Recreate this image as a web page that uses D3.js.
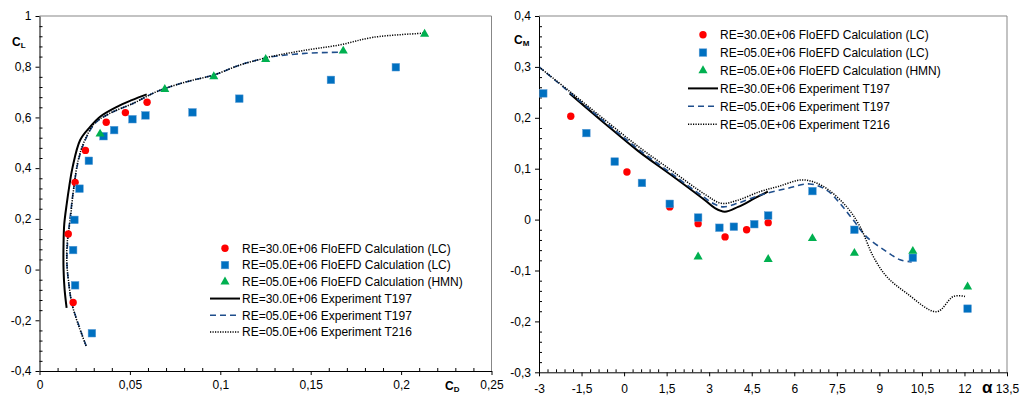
<!DOCTYPE html>
<html lang="en">
<head>
<meta charset="UTF-8">
<title>CL-CD and CM-alpha</title>
<script src="https://cdn.jsdelivr.net/npm/d3@7"></script>
<style>
    body { margin: 0; background: #fff; }
    svg { font-family: "Liberation Sans", Arial, sans-serif; }
</style>
</head>
<body>
<div id="container"></div>
<script>
// ---------- left chart: CL over CD ----------
const cdRe30Lc = [0.0186, 0.0159, 0.0197, 0.0254, 0.0369, 0.0475, 0.0595];
const clRe30Lc = [-0.130, 0.140, 0.344, 0.470, 0.581, 0.619, 0.660];

const cdRe5Lc = [0.0290, 0.0197, 0.0186, 0.0193, 0.0221, 0.0273, 0.0354, 0.0413, 0.0514, 0.0586, 0.0846, 0.1105, 0.1612, 0.1971];
const clRe5Lc = [-0.251, -0.062, 0.077, 0.196, 0.319, 0.429, 0.526, 0.550, 0.593, 0.608, 0.620, 0.674, 0.748, 0.798];

const cdRe5Hmn = [0.0335, 0.0693, 0.0964, 0.1251, 0.1680, 0.2130];
const clRe5Hmn = [0.535, 0.711, 0.761, 0.829, 0.862, 0.929];

const cdExpRe30T197 = [0.0150, 0.0139, 0.0133, 0.0133, 0.0137, 0.0151, 0.0165, 0.0182, 0.0225, 0.0280, 0.0335, 0.0428, 0.0510, 0.0593];
const clExpRe30T197 = [-0.151, -0.080, 0.000, 0.104, 0.180, 0.261, 0.330, 0.400, 0.511, 0.563, 0.603, 0.642, 0.668, 0.691];

const cdExpRe5T197 = [0.0258, 0.0220, 0.0179, 0.0160, 0.0152, 0.0155, 0.0170, 0.0188, 0.0216, 0.0253, 0.0308, 0.0390, 0.0520, 0.0649, 0.0815, 0.0962, 0.1110, 0.1220, 0.1293, 0.1478, 0.1660];
const clExpRe5T197 = [-0.301, -0.225, -0.133, -0.045, 0.020, 0.104, 0.209, 0.314, 0.432, 0.511, 0.577, 0.616, 0.656, 0.702, 0.741, 0.767, 0.807, 0.829, 0.840, 0.853, 0.857];

const cdExpRe5T216 = [0.0258, 0.0218, 0.0179, 0.0160, 0.0151, 0.0153, 0.0170, 0.0188, 0.0214, 0.0251, 0.0305, 0.0388, 0.0520, 0.0649, 0.0815, 0.0962, 0.1110, 0.1220, 0.1293, 0.1478, 0.1660, 0.1846, 0.2122];
const clExpRe5T216 = [-0.301, -0.225, -0.133, -0.041, 0.030, 0.104, 0.196, 0.314, 0.432, 0.511, 0.577, 0.616, 0.656, 0.702, 0.741, 0.767, 0.807, 0.829, 0.842, 0.866, 0.886, 0.916, 0.932];

const cdTicks = [0, 0.05, 0.1, 0.15, 0.2, 0.25];
const clTicks = [-0.4, -0.2, 0, 0.2, 0.4, 0.6, 0.8, 1];

// ---------- right chart: CM over alpha ----------
const alphaRe30Lc = [-1.88, 0.10, 1.61, 2.61, 3.56, 4.32, 5.08];
const cmRe30Lc = [0.203, 0.0935, 0.025, -0.008, -0.034, -0.020, -0.006];

const alphaRe5Lc = [-2.85, -1.33, -0.33, 0.63, 1.61, 2.61, 3.36, 3.87, 4.59, 5.08, 6.64, 8.12, 10.18, 12.11];
const cmRe5Lc = [0.248, 0.170, 0.114, 0.072, 0.031, 0.004, -0.016, -0.014, -0.009, 0.008, 0.056, -0.020, -0.075, -0.175];

const alphaRe5Hmn = [2.61, 5.08, 6.64, 8.12, 10.18, 12.11];
const cmRe5Hmn = [-0.073, -0.078, -0.037, -0.066, -0.062, -0.132];

const alphaExpRe30T197 = [-1.92, -0.68, 0.49, 1.66, 2.84, 3.19, 3.55, 4.02, 4.61, 5.07];
const cmExpRe30T197 = [0.248, 0.189, 0.135, 0.0876, 0.0385, 0.023, 0.0155, 0.025, 0.042, 0.055];

const alphaExpRe5T197 = [-3.0, -1.92, -0.68, 0.49, 1.66, 2.84, 3.20, 3.49, 4.0, 4.79, 5.73, 6.55, 7.14, 7.61, 8.08, 8.55, 9.26, 9.73, 10.14];
const cmExpRe5T197 = [0.300, 0.250, 0.192, 0.139, 0.091, 0.043, 0.030, 0.025, 0.032, 0.048, 0.061, 0.070, 0.058, 0.032, -0.001, -0.034, -0.063, -0.079, -0.083];

const alphaExpRe5T216 = [-3.0, -1.92, -0.68, 0.49, 1.66, 2.84, 3.43, 4.0, 4.79, 5.43, 6.32, 7.03, 7.85, 8.32, 8.79, 9.26, 9.97, 11.02, 11.61, 12.02];
const cmExpRe5T216 = [0.300, 0.252, 0.196, 0.144, 0.097, 0.050, 0.032, 0.038, 0.055, 0.065, 0.078, 0.065, 0.025, -0.014, -0.073, -0.112, -0.145, -0.181, -0.151, -0.151];

const alphaTicks = [-3, -1.5, 0, 1.5, 3, 4.5, 6, 7.5, 9, 10.5, 12, 13.5];
const cmTicks = [-0.3, -0.2, -0.1, 0, 0.1, 0.2, 0.3, 0.4];

const legendLabels = [
    "RE=30.0E+06 FloEFD Calculation (LC)",
    "RE=05.0E+06 FloEFD Calculation (LC)",
    "RE=05.0E+06 FloEFD Calculation (HMN)",
    "RE=30.0E+06 Experiment T197",
    "RE=05.0E+06 Experiment T197",
    "RE=05.0E+06 Experiment T216"
];

// decimal comma, plain hyphen minus
const fmt = d3.formatLocale({decimal: ",", thousands: " ", grouping: [3], currency: ["", ""], minus: "-"}).format("~g");

const styles = [
    {type: "circle", color: "#ff0000"},
    {type: "square", color: "#0070c0"},
    {type: "triangle", color: "#00b050"},
    {type: "line", color: "#000", width: 2, dash: null},
    {type: "line", color: "#1f4e8c", width: 1.6, dash: "6,4"},
    {type: "line", color: "#000", width: 1.5, dash: "1.2,1.3"}
];

const svg = d3.select("#container").append("svg")
    .attr("width", 1020)
    .attr("height", 396);

function minorTicks(lo, hi, step, majors) {
    const n = Math.round((hi - lo) / step);
    return d3.range(n + 1).map(i => +(lo + i * step).toFixed(6))
        .filter(v => !majors.some(m => Math.abs(m - v) < 1e-9));
}

function drawMarker(sel, type, color) {
    if (type === "circle") {
        sel.append("circle").attr("r", 3.7).attr("fill", color);
    } else if (type === "square") {
        sel.append("rect").attr("x", -3.8).attr("y", -3.8).attr("width", 7.6).attr("height", 7.6)
            .attr("fill", color).attr("stroke", "#5b9bd5").attr("stroke-width", 0.5);
    } else {
        sel.append("path").attr("d", d3.symbol(d3.symbolTriangle, 36)()).attr("fill", color);
    }
}

function drawPanel(p) {
    const g = svg.append("g");
    const x = d3.scaleLinear().domain(p.xDomain).range(p.xRange);
    const y = d3.scaleLinear().domain(p.yDomain).range(p.yRange);
    const [x0, x1] = p.xRange;
    const [y0, y1] = p.yRange;

    // grey frame on top and right
    g.append("path")
        .attr("d", `M${x0},${y1}H${x1}V${y0}`)
        .attr("fill", "none").attr("stroke", "#878787").attr("stroke-width", 1);

    // minor ticks point inwards
    g.append("g").attr("transform", `translate(0,${y0})`)
        .call(d3.axisBottom(x).tickValues(p.xMinor).tickSize(-3).tickFormat(""))
        .call(a => a.select(".domain").remove());
    g.append("g").attr("transform", `translate(${x0},0)`)
        .call(d3.axisLeft(y).tickValues(p.yMinor).tickSize(-3).tickFormat(""))
        .call(a => a.select(".domain").remove());

    // major ticks point outwards
    const xa = g.append("g").attr("transform", `translate(0,${y0})`)
        .call(d3.axisBottom(x).tickValues(p.xTicks).tickSize(4).tickSizeOuter(0).tickPadding(p.xPad).tickFormat(fmt));
    const ya = g.append("g").attr("transform", `translate(${x0},0)`)
        .call(d3.axisLeft(y).tickValues(p.yTicks).tickSize(4).tickSizeOuter(0).tickPadding(4).tickFormat(fmt));
    [xa, ya].forEach(a => a.attr("font-size", 12).attr("font-family", null));

    // series
    p.series.forEach((s, i) => {
        const st = styles[i];
        const pts = d3.zip(s.xs, s.ys);
        if (st.type === "line") {
            const line = d3.line().x(d => x(d[0])).y(d => y(d[1])).curve(d3.curveCatmullRom.alpha(0.5));
            g.append("path").datum(pts)
                .attr("d", line)
                .attr("fill", "none")
                .attr("stroke", st.color)
                .attr("stroke-width", st.width)
                .attr("stroke-dasharray", st.dash);
        }
    });
    p.series.forEach((s, i) => {
        const st = styles[i];
        if (st.type === "line") return;
        g.append("g").selectAll("g")
            .data(d3.zip(s.xs, s.ys))
            .enter().append("g")
            .attr("transform", d => `translate(${x(d[0])},${y(d[1])})`)
            .each(function () { drawMarker(d3.select(this), st.type, st.color); });
    });

    // legend
    const lg = g.append("g");
    legendLabels.forEach((label, i) => {
        const st = styles[i];
        const ly = p.legend.y + i * p.legend.step;
        if (st.type === "line") {
            lg.append("line")
                .attr("x1", p.legend.x).attr("x2", p.legend.x + 30)
                .attr("y1", ly).attr("y2", ly)
                .attr("stroke", st.color)
                .attr("stroke-width", st.width)
                .attr("stroke-dasharray", st.dash);
        } else {
            const m = lg.append("g").attr("transform", `translate(${p.legend.x + 15},${ly})`);
            drawMarker(m, st.type, st.color);
        }
        lg.append("text")
            .attr("x", p.legend.x + 32).attr("y", ly).attr("dy", "0.36em")
            .attr("font-size", 12)
            .text(label);
    });

    // axis titles
    p.titles.forEach(t => {
        const txt = g.append("text")
            .attr("x", t.x).attr("y", t.y)
            .attr("font-size", t.size).attr("font-weight", "bold")
            .text(t.main);
        if (t.sub) {
            txt.append("tspan").attr("font-size", 8).attr("dy", 2).text(t.sub);
        }
    });
}

drawPanel({
    xDomain: [0, 0.25], xRange: [39.5, 491.5],
    yDomain: [-0.4, 1], yRange: [371, 16],
    xTicks: cdTicks, yTicks: clTicks,
    xMinor: minorTicks(0, 0.25, 0.01, cdTicks),
    yMinor: minorTicks(-0.4, 1, 0.04, clTicks),
    xPad: 5,
    series: [
        {xs: cdRe30Lc, ys: clRe30Lc},
        {xs: cdRe5Lc, ys: clRe5Lc},
        {xs: cdRe5Hmn, ys: clRe5Hmn},
        {xs: cdExpRe30T197, ys: clExpRe30T197},
        {xs: cdExpRe5T197, ys: clExpRe5T197},
        {xs: cdExpRe5T216, ys: clExpRe5T216}
    ],
    legend: {x: 210, y: 248.3, step: 16.75},
    titles: [
        {x: 12, y: 46, size: 12, main: "C", sub: "L"},
        {x: 445, y: 390, size: 12, main: "C", sub: "D"}
    ]
});

drawPanel({
    xDomain: [-3, 13.5], xRange: [539, 1007],
    yDomain: [-0.3, 0.4], yRange: [372.3, 16],
    xTicks: alphaTicks, yTicks: cmTicks,
    xMinor: minorTicks(-3, 13.5, 0.3, alphaTicks),
    yMinor: minorTicks(-0.3, 0.4, 0.02, cmTicks),
    xPad: 8,
    series: [
        {xs: alphaRe30Lc, ys: cmRe30Lc},
        {xs: alphaRe5Lc, ys: cmRe5Lc},
        {xs: alphaRe5Hmn, ys: cmRe5Hmn},
        {xs: alphaExpRe30T197, ys: cmExpRe30T197},
        {xs: alphaExpRe5T197, ys: cmExpRe5T197},
        {xs: alphaExpRe5T216, ys: cmExpRe5T216}
    ],
    legend: {x: 688, y: 34.7, step: 17.9},
    titles: [
        {x: 514, y: 44, size: 12, main: "C", sub: "M"},
        {x: 982, y: 393, size: 17, main: "α"}
    ]
});
</script>
</body>
</html>
